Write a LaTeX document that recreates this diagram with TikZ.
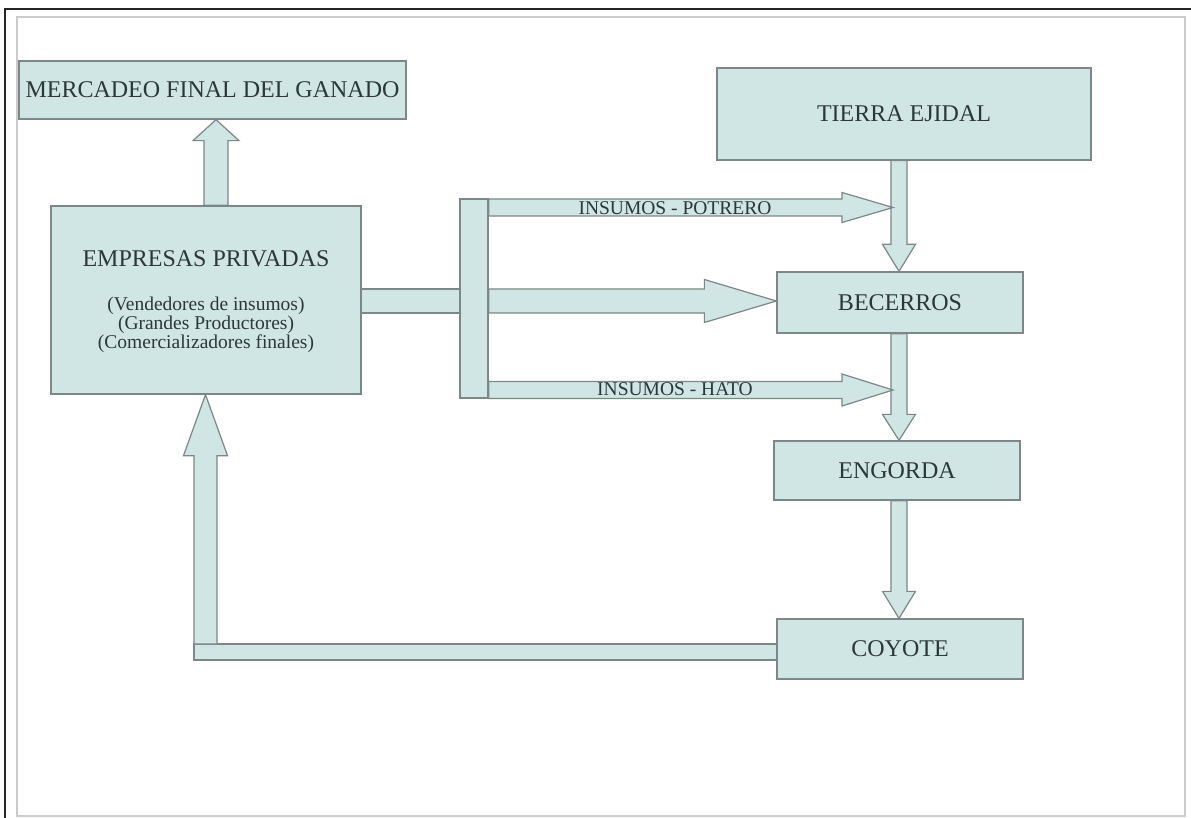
\documentclass[tikz,border=0pt]{standalone}
\usepackage{fontspec}
\setmainfont{Liberation Serif}
\usetikzlibrary{calc}
\definecolor{boxfill}{RGB}{208,230,229}
\definecolor{boxline}{RGB}{125,135,135}
\definecolor{txt}{RGB}{45,55,55}
\tikzset{
  box/.style={draw=boxline, fill=boxfill, line width=1.3pt, inner sep=0pt, text=txt,
    font=\fontsize{24}{26}\selectfont},
  blk/.style={draw=boxline, fill=boxfill, line width=1.2pt, line join=miter},
  lbl/.style={inner sep=0pt, text=txt, font=\fontsize{19.5}{20}\selectfont},
}
% block arrows: #1 start, #2 tip, #3 shaft half width, #4 head half width, #5 head length
\newcommand{\blkdown}[5]{\filldraw[blk] let \p1=(#1), \p2=(#2) in
  (\x1-#3,\y1) -- (\x1-#3,\y2+#5) -- (\x1-#4,\y2+#5) -- (\x1,\y2) -- (\x1+#4,\y2+#5) -- (\x1+#3,\y2+#5) -- (\x1+#3,\y1) -- cycle;}
\newcommand{\blkup}[5]{\filldraw[blk] let \p1=(#1), \p2=(#2) in
  (\x1-#3,\y1) -- (\x1-#3,\y2-#5) -- (\x1-#4,\y2-#5) -- (\x1,\y2) -- (\x1+#4,\y2-#5) -- (\x1+#3,\y2-#5) -- (\x1+#3,\y1) -- cycle;}
\newcommand{\blkright}[5]{\filldraw[blk] let \p1=(#1), \p2=(#2) in
  (\x1,\y1-#3) -- (\x2-#5,\y1-#3) -- (\x2-#5,\y1-#4) -- (\x2,\y1) -- (\x2-#5,\y1+#4) -- (\x2-#5,\y1+#3) -- (\x1,\y1+#3) -- cycle;}
\begin{document}
\begin{tikzpicture}[x=1pt,y=-1pt]
\useasboundingbox (0,0) rectangle (1191,818);
\fill[white] (0,0) rectangle (1191,818);
\draw[line width=1.6pt, black!85] (5,818) -- (5,9) -- (1191,9);
\draw[line width=1.4pt, black!20] (17,17) rectangle (1185,816);

% boxes
\node[box, minimum width=387pt, minimum height=58pt] (merc) at (212.5,90) {MERCADEO FINAL DEL GANADO};
\node[box, minimum width=310pt, minimum height=188pt] (emp) at (206,300) {};
\node[lbl, font=\fontsize{24}{26}\selectfont] (empt) at (206,259) {EMPRESAS PRIVADAS};
\node[lbl, align=center, font=\fontsize{19.5}{17.5}\selectfont] (emps) at (206,325)
  {(Vendedores de insumos)\\(Grandes Productores)\\(Comercializadores finales)};
\node[box, minimum width=374pt, minimum height=92pt] (tierra) at (904,114) {TIERRA EJIDAL};
\node[box, minimum width=246pt, minimum height=61pt] (bec) at (900,302.5) {BECERROS};
\node[box, minimum width=246pt, minimum height=59pt] (eng) at (897,470.5) {ENGORDA};
\node[box, minimum width=246pt, minimum height=60pt] (coy) at (900,649) {COYOTE};
\node[box, minimum width=28pt, minimum height=199pt] (bar) at (474,298.5) {};

% helper rows / columns
\coordinate (colx) at (899,0);
\coordinate (upx) at (216,0);
\coordinate (midrow) at (0,301);
\coordinate (potr) at (0,207.5);
\coordinate (hato) at (0,390);
\coordinate (retrow) at (0,652);
\coordinate (retx) at (205.5,0);
\coordinate (potrtip) at ($(colx |- potr)+(-6,0)$);
\coordinate (hatotip) at ($(colx |- hato)+(-6,0)$);

% up arrow to mercadeo
\blkup{emp.north -| upx}{merc.south -| upx}{12pt}{23pt}{21pt}

% connector empresas -> bar
\filldraw[blk] ($(emp.east |- midrow)+(0,-12)$) rectangle ($(bar.west |- midrow)+(0,12)$);

% vertical chain
\blkdown{tierra.south -| colx}{bec.north -| colx}{8pt}{16.5pt}{27pt}
\blkdown{bec.south -| colx}{eng.north -| colx}{8pt}{16.5pt}{26pt}
\blkdown{eng.south -| colx}{coy.north -| colx}{8pt}{16.5pt}{27pt}

% right arrows from bar
\blkright{bar.east |- potr}{potrtip}{8.5pt}{15pt}{51pt}
\blkright{bar.east |- midrow}{bec.west |- midrow}{12pt}{21.5pt}{72pt}
\blkright{bar.east |- hato}{hatotip}{8.5pt}{16pt}{51pt}
\node[lbl] (lpot) at (675,208) {INSUMOS - POTRERO};
\node[lbl] (lhato) at (675,389) {INSUMOS - HATO};

% return path coyote -> empresas
\filldraw[blk] ($(coy.west |- retrow)+(0,-8)$) rectangle ($(retx |- retrow)+(-11.5,8)$);
\blkup{$(retx |- retrow)+(0,-8)$}{emp.south -| retx}{11.5pt}{22pt}{61pt}
\end{tikzpicture}
\end{document}
